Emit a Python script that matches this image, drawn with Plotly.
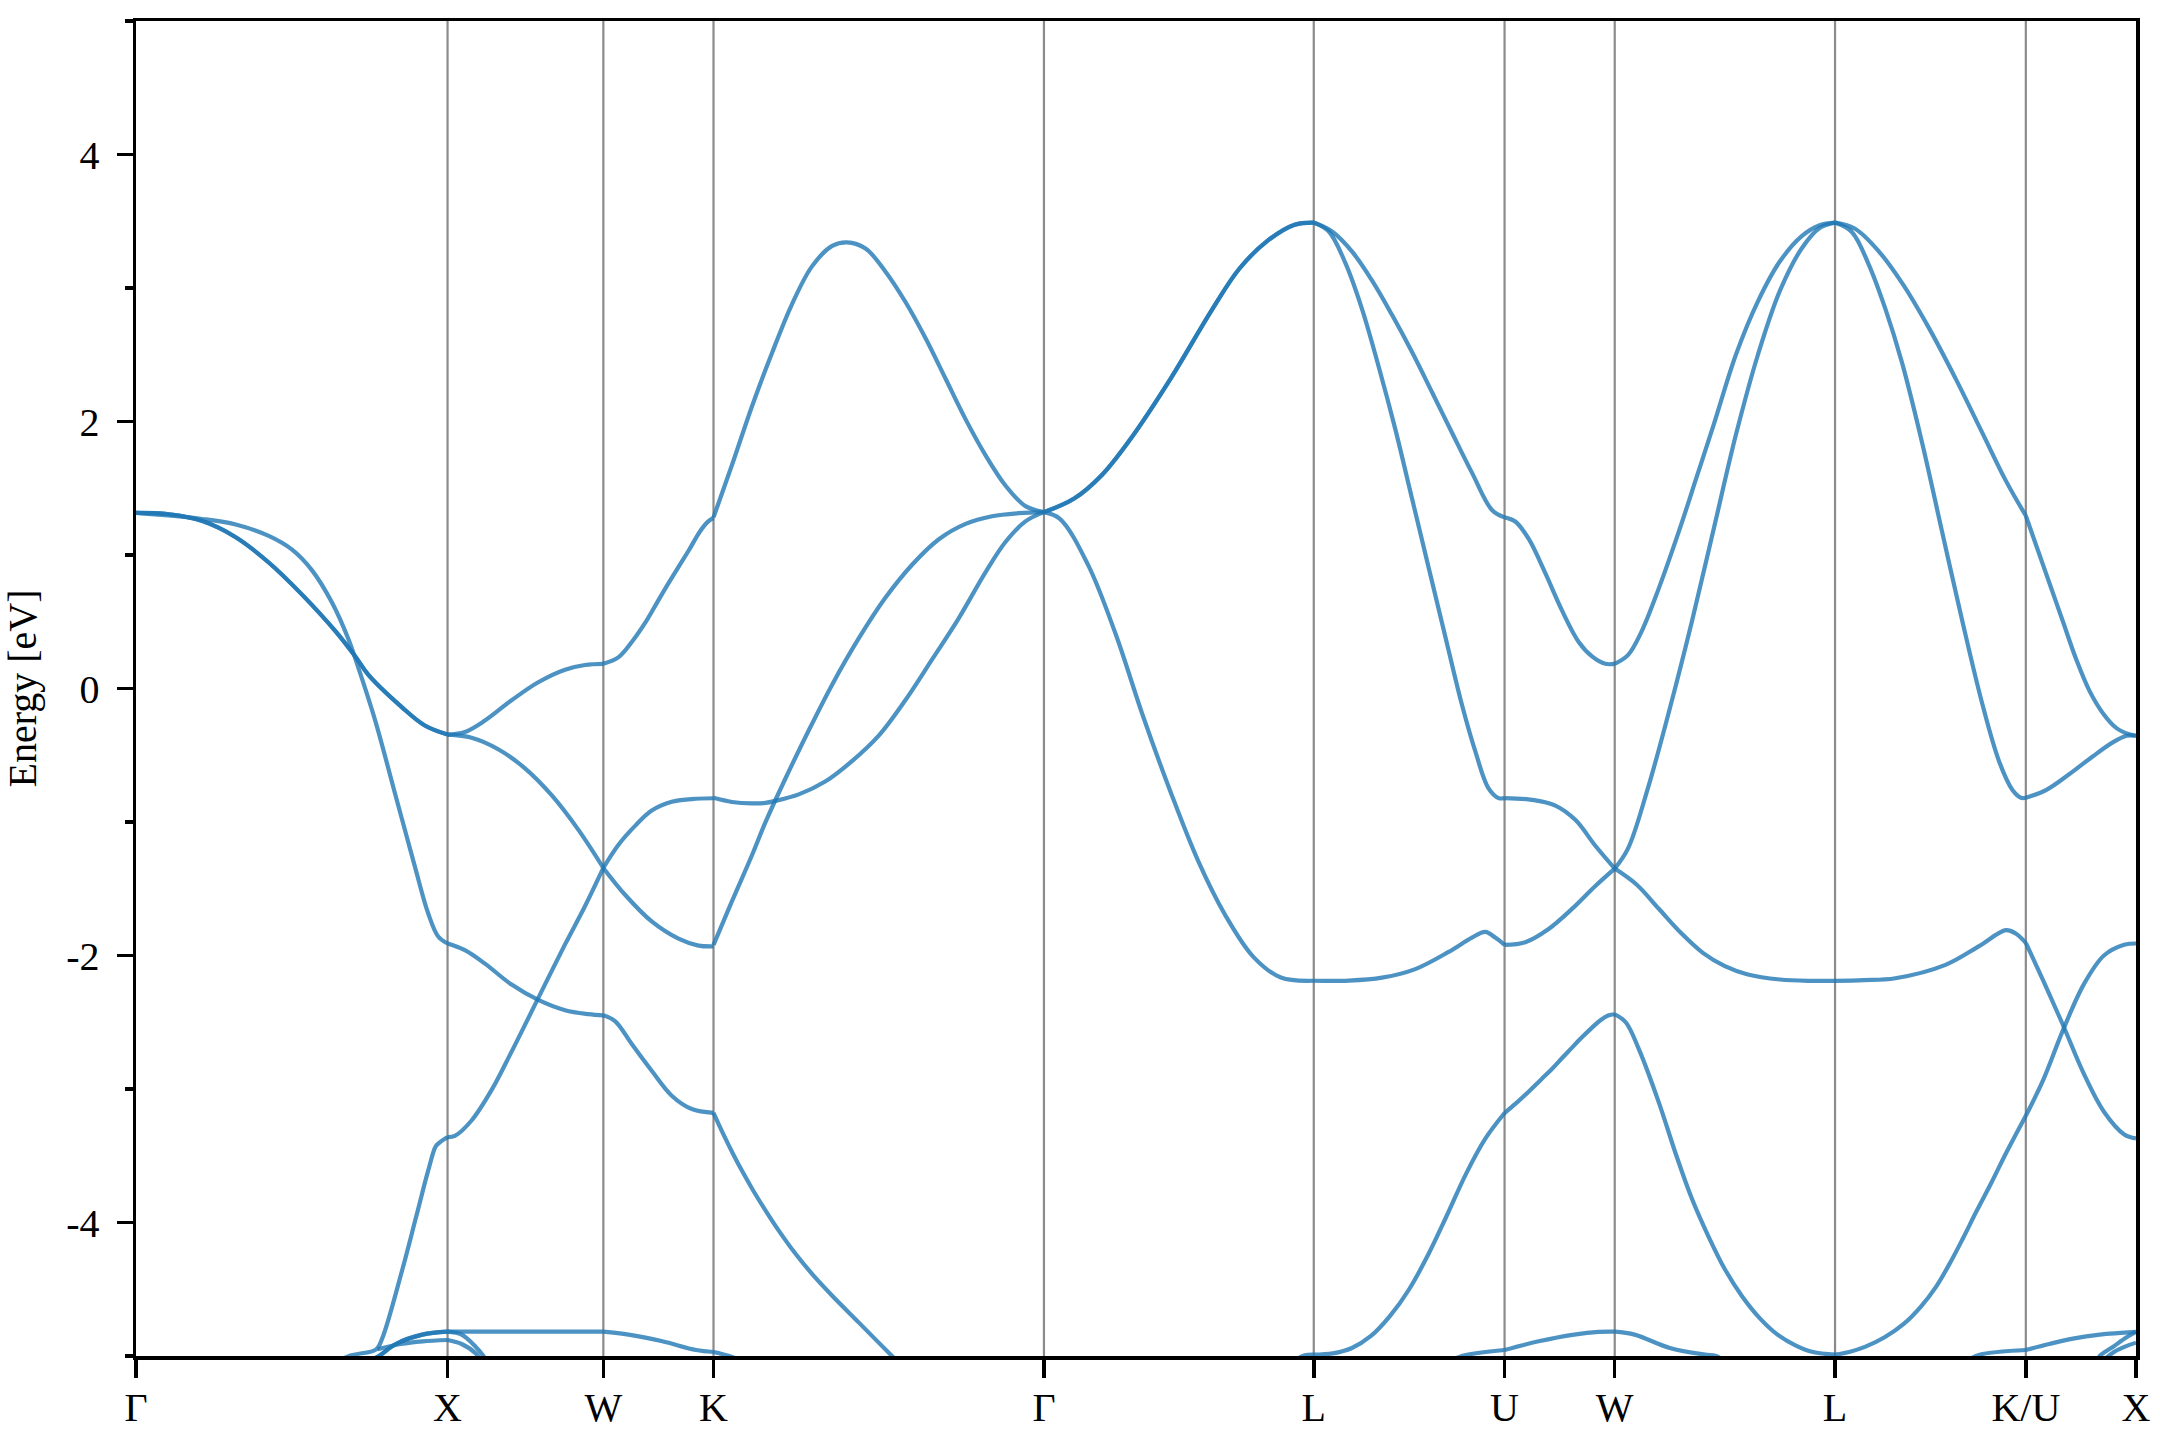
import plotly.graph_objects as go

# ---------------- path / axis data ----------------
path_labels = ["Γ", "X", "W", "K", "Γ", "L", "U", "W", "L", "K/U", "X"]
path_k = [0.0, 1.0, 1.5, 1.8536, 2.9142, 3.7802, 4.3926, 4.7462, 5.4533, 6.0657, 6.4193]

energy_ticks = [-4, -2, 0, 2, 4]
energy_labels = ["-4", "-2", "0", "2", "4"]
energy_minor = [-5, -3, -1, 1, 3, 5]
energy_range = [-5, 5]

# ---------------- band data ----------------
# each band: (fraction along segment, energy [eV], degeneracy)
bands_G_X = [
    ([0, .107, .213, .32, .426, .533, .64, .704, .746, .853, .927, 1],
     [1.315, 1.305, 1.254, 1.133, .944, .703, .429, .239, .102, -.139, -.277, -.345], 2),
    ([0, .213, .32, .426, .501, .565, .629, .682, .709, .768, .832, .896, .938, .970, 1],
     [1.315, 1.27, 1.229, 1.143, 1.04, .885, .644, .369, .188, -.242, -.792, -1.342, -1.686, -1.858, -1.91], 1),
    ([.60, .684, .771, .79, .854, .90, .938, .962, .975, 1],
     [-5.1, -5.0, -4.95, -4.87, -4.36, -3.95, -3.61, -3.43, -3.40, -3.36], 1),
    ([.74, .78, .834, .919, 1],
     [-5.05, -5.0, -4.91, -4.84, -4.818], 2),
    ([.775, .85, .92, 1],
     [-4.95, -4.91, -4.89, -4.88], 1),
]

bands_X_W = [
    ([0, .111, .24, .411, .582, .754, .882, 1],
     [-.346, -.326, -.24, -.088, .047, .141, .176, .184], 1),
    ([0, .154, .325, .497, .668, .839, 1],
     [-.346, -.369, -.455, -.598, -.799, -1.057, -1.344], 1),
    ([0, .047, .154, .283, .411, .582, .754, .882, 1],
     [-3.36, -3.351, -3.236, -3.007, -2.72, -2.319, -1.917, -1.631, -1.344], 1),
    ([0, .111, .24, .411, .582, .754, .904, 1],
     [-1.91, -1.96, -2.061, -2.218, -2.333, -2.41, -2.439, -2.448], 1),
    ([0, .5, 1],
     [-4.818, -4.818, -4.818], 1),
    ([0, .09, .18, .23, .3],
     [-4.818, -4.84, -4.93, -5.0, -5.15], 1),
    ([0, .09, .18, .25],
     [-4.88, -4.91, -4.98, -5.1], 1),
]

bands_W_K = [
    ([0, .136, .258, .379, .485, .6, .772, .88, .95, 1],
     [.186, .233, .348, .491, .64, .8, 1.03, 1.18, 1.25, 1.278], 1),
    ([0, .197, .439, .682, .864, 1],
     [-1.344, -1.545, -1.745, -1.874, -1.926, -1.932], 1),
    ([0, .136, .288, .439, .621, .803, 1],
     [-1.344, -1.172, -1.029, -.914, -.848, -.828, -.822], 1),
    ([0, .106, .258, .439, .621, .803, 1],
     [-2.448, -2.491, -2.663, -2.863, -3.05, -3.15, -3.179], 1),
    ([0, .229, .535, .841, 1],
     [-4.818, -4.84, -4.89, -4.955, -4.97], 1),
]

bands_K_G = [
    ([0, .0556, .116, .177, .237, .298, .359, .404, .46, .52, .581, .641, .702, .763, .823, .884, .944, 1],
     [1.282, 1.672, 2.111, 2.513, 2.876, 3.162, 3.315, 3.342, 3.296, 3.124, 2.895, 2.627, 2.322, 2.016,
      1.748, 1.519, 1.366, 1.321], 1),
    ([0, .0556, .116, .157, .187, .258, .338, .419, .5, .581, .662, .742, .823, .884, .944, 1],
     [-.819, -.85, -.861, -.857, -.842, -.793, -.697, -.544, -.353, -.086, .22, .526, .87, 1.099, 1.252, 1.321], 1),
    ([0, .0556, .116, .157, .217, .288, .359, .439, .52, .601, .682, .763, .843, .924, 1],
     [-1.92, -1.595, -1.251, -1.003, -.678, -.315, .029, .373, .679, .927, 1.118, 1.233, 1.29, 1.313, 1.321], 1),
    ([0, .03, .06, .09, .12, .16, .2, .25, .3, .36, .44, .54, .6],
     [-3.179, -3.34, -3.49, -3.63, -3.76, -3.92, -4.07, -4.24, -4.39, -4.55, -4.75, -5.0, -5.15], 1),
    ([0, .048, .1],
     [-4.97, -5.0, -5.05], 1),
]

bands_G_L = [
    ([0, .112, .214, .316, .469, .622, .724, .827, .929, 1],
     [1.321, 1.423, 1.598, 1.856, 2.32, 2.835, 3.144, 3.351, 3.474, 3.49], 2),
    ([0, .059, .163, .265, .367, .469, .571, .673, .776, .878, 1],
     [1.321, 1.271, .928, .412, -.206, -.773, -1.289, -1.701, -2.01, -2.165, -2.189], 1),
    ([.93, .967, 1],
     [-5.03, -4.995, -4.99], 1),
]

bands_L_U = [
    ([0, .096, .201, .305, .41, .515, .62, .724, .829, .934, 1],
     [3.49, 3.423, 3.272, 3.057, 2.799, 2.52, 2.219, 1.918, 1.617, 1.337, 1.282], 1),
    ([0, .079, .166, .253, .34, .428, .515, .602, .689, .777, .846, .916, .969, 1],
     [3.49, 3.423, 3.186, 2.842, 2.412, 1.939, 1.423, .907, .392, -.124, -.468, -.748, -.821, -.821], 1),
    ([0, .183, .358, .532, .707, .829, .899, .951, 1],
     [-2.189, -2.188, -2.166, -2.102, -1.973, -1.866, -1.823, -1.866, -1.921], 1),
    ([0, .1, .2, .3, .4, .5, .6, .7, .8, .9, 1],
     [-4.99, -4.98, -4.94, -4.85, -4.7, -4.5, -4.24, -3.94, -3.63, -3.37, -3.18], 1),
    ([.7, .776, 1],
     [-5.05, -5.0, -4.955], 1),
]

bands_U_W = [
    ([0, .097, .218, .37, .521, .673, .794, .915, 1],
     [1.282, 1.251, 1.122, .864, .585, .349, .241, .185, .185], 1),
    ([0, .248, .461, .642, .824, 1],
     [-.821, -.834, -.877, -.984, -1.178, -1.349], 1),
    ([0, .188, .4, .612, .824, 1],
     [-1.921, -1.9, -1.801, -1.651, -1.479, -1.349], 1),
    ([0, .1, .218, .33, .43, .52, .612, .7, .794, .87, .94, 1],
     [-3.18, -3.11, -3.02, -2.93, -2.85, -2.77, -2.69, -2.615, -2.54, -2.485, -2.45, -2.44], 1),
    ([0, .309, .632, .855, 1],
     [-4.955, -4.89, -4.84, -4.82, -4.818], 1),
]

bands_W_L = [
    ([0, .06, .12, .2, .3, .375, .45, .55, .65, .75, .85, .93, 1],
     [.185, .25, .42, .75, 1.22, 1.6, 1.98, 2.5, 2.9, 3.2, 3.39, 3.47, 3.49], 1),
    ([0, .06, .15, .25, .35, .45, .55, .65, .75, .85, .93, 1],
     [-1.349, -1.2, -.75, -.15, .5, 1.2, 1.9, 2.5, 2.98, 3.3, 3.45, 3.49], 1),
    ([0, .1, .2, .3, .4, .5, .6, .75, .9, 1],
     [-1.349, -1.47, -1.65, -1.83, -1.98, -2.08, -2.14, -2.18, -2.19, -2.19], 1),
    ([0, .05, .109, .2, .28, .35, .43, .5, .577, .66, .739, .82, .9, 1],
     [-2.44, -2.5, -2.7, -3.1, -3.5, -3.82, -4.12, -4.35, -4.55, -4.72, -4.84, -4.92, -4.97, -4.99], 1),
    ([0, .09, .25, .41, .46, .55],
     [-4.818, -4.84, -4.94, -4.99, -5.0, -5.1], 1),
]

bands_L_KU = [
    ([0, .105, .228, .351, .491, .632, .772, .895, 1],
     [3.49, 3.444, 3.277, 3.038, 2.703, 2.321, 1.915, 1.557, 1.294], 1),
    ([0, .088, .175, .263, .351, .456, .561, .667, .772, .86, .93, .974, 1],
     [3.49, 3.42, 3.181, 2.847, 2.441, 1.843, 1.175, .506, -.116, -.546, -.76, -.818, -.818], 1),
    ([0, .15, .316, .579, .755, .895, .947, 1],
     [-2.19, -2.185, -2.17, -2.07, -1.93, -1.81, -1.835, -1.906], 1),
    ([0, .074, .16, .26, .36, .45, .53, .6, .67, .74, .82, .9, 1],
     [-4.99, -4.97, -4.93, -4.86, -4.76, -4.63, -4.48, -4.31, -4.12, -3.92, -3.7, -3.47, -3.2], 1),
    ([.7, .758, 1],
     [-5.03, -4.99, -4.955], 1),
]

bands_KU_X = [
    ([0, .091, .213, .335, .457, .579, .701, .823, .945, 1],
     [1.294, 1.079, .792, .506, .219, -.02, -.187, -.297, -.345, -.354], 1),
    ([0, .183, .396, .61, .793, .915, 1],
     [-.818, -.761, -.641, -.507, -.402, -.354, -.354], 1),
    ([0, .159, .342, .526, .709, .893, 1],
     [-1.906, -2.19, -2.53, -2.885, -3.17, -3.34, -3.37], 1),
    ([0, .159, .342, .526, .709, .893, 1],
     [-3.2, -2.93, -2.55, -2.216, -2.0, -1.92, -1.91], 1),
    ([0, .213, .427, .671, 1],
     [-4.955, -4.91, -4.87, -4.84, -4.82], 1),
    ([.64, .671, .793, .915, 1],
     [-5.05, -5.0, -4.93, -4.86, -4.82], 1),
    ([.68, .8, .9, 1],
     [-5.05, -4.97, -4.93, -4.90], 1),
]

segments = [bands_G_X, bands_X_W, bands_W_K, bands_K_G, bands_G_L,
            bands_L_U, bands_U_W, bands_W_L, bands_L_KU, bands_KU_X]

# ---------------- figure ----------------
BAND_COLOR = "rgba(31,119,180,0.8)"
FONT = "Liberation Serif, Times New Roman, serif"

fig = go.Figure()
for i, seg in enumerate(segments):
    k0, k1 = path_k[i], path_k[i + 1]
    for frac, en, deg in seg:
        ks = [k0 + f * (k1 - k0) for f in frac]
        for _ in range(deg):
            fig.add_trace(go.Scatter(
                x=ks, y=en, mode="lines",
                line=dict(color=BAND_COLOR, width=4.2, shape="spline", smoothing=1.0),
                hoverinfo="skip", showlegend=False))

for kv in path_k[1:-1]:
    fig.add_shape(type="line", xref="x", yref="paper", x0=kv, x1=kv, y0=0, y1=1,
                  line=dict(color="rgba(110,110,110,0.8)", width=2.2), layer="below")

fig.update_layout(
    width=2160, height=1440,
    margin=dict(l=136, r=24, t=21, b=84),
    paper_bgcolor="white", plot_bgcolor="white",
    font=dict(family=FONT, size=40, color="black"),
    showlegend=False,
)
fig.update_xaxes(
    range=[path_k[0], path_k[-1]],
    tickmode="array", tickvals=path_k, ticktext=path_labels,
    ticks="outside", ticklen=18, tickwidth=3.5, tickcolor="black",
    ticklabelstandoff=-5,
    showline=True, linewidth=3.5, linecolor="black", mirror=True,
    showgrid=False, zeroline=False, automargin=False,
    tickfont=dict(family=FONT, size=40, color="black"),
)
fig.update_yaxes(
    range=energy_range,
    tickmode="array", tickvals=energy_ticks, ticktext=energy_labels,
    ticks="outside", ticklen=16, tickwidth=3.5, tickcolor="black",
    ticklabelstandoff=9,
    minor=dict(tickmode="array", tickvals=energy_minor, ticks="outside",
               ticklen=8, tickwidth=3.5, tickcolor="black", showgrid=False),
    showline=True, linewidth=3.5, linecolor="black", mirror=True,
    showgrid=False, zeroline=False, automargin=False,
    tickfont=dict(family=FONT, size=40, color="black"),
    title=dict(text="Energy [eV]", font=dict(family=FONT, size=40, color="black"), standoff=31),
)

fig.write_html("out.html",
               config={"displayModeBar": False, "staticPlot": True},
               post_script="document.body.style.margin='0';document.body.style.overflow='hidden';")
